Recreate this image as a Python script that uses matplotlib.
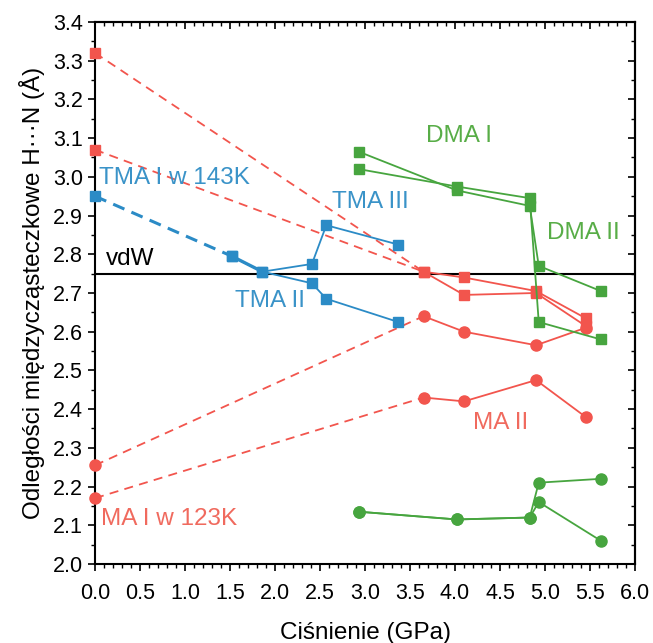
import matplotlib
matplotlib.use("Agg")
import matplotlib.pyplot as plt
from matplotlib.ticker import MultipleLocator

plt.rcParams['font.family'] = ['Liberation Sans', 'DejaVu Sans']

RED = '#f2554d'
BLUE = '#2b8bc6'
GREEN = '#47a53f'
RED_T = '#f06a5e'
BLUE_T = '#3a93c8'
GREEN_T = '#58ad47'

# MA squares (two branches)
ma_sq_dash_x = [0.0, 3.65]
ma_sq1_dash_y = [3.32, 2.755]
ma_sq2_dash_y = [3.07, 2.755]
ma_sq_x = [3.65, 4.1, 4.9, 5.45]
ma_sq1_y = [2.755, 2.74, 2.705, 2.635]
ma_sq2_y = [2.755, 2.695, 2.70, 2.615]

# MA circles
ma_c_dash_x = [0.0, 3.65]
ma_c1_dash_y = [2.255, 2.64]
ma_c2_dash_y = [2.17, 2.43]
ma_c_x = [3.65, 4.1, 4.9, 5.45]
ma_c1_y = [2.64, 2.60, 2.565, 2.61]
ma_c2_y = [2.43, 2.42, 2.475, 2.38]

# TMA
tma_dash_x = [0.0, 1.52]
tma_dash_y = [2.95, 2.795]
tma_x = [1.52, 1.86, 2.41, 2.57, 3.37]
tma3_y = [2.795, 2.755, 2.775, 2.875, 2.825]
tma2_y = [2.795, 2.755, 2.725, 2.685, 2.625]

# DMA squares
dma_sq_x = [2.93, 4.02, 4.83, 4.93, 5.62]
dma_sq1_y = [3.065, 2.965, 2.925, 2.77, 2.705]
dma_sq2_y = [3.02, 2.975, 2.945, 2.625, 2.58]

# DMA circles
dma_c_x = [2.93, 4.02, 4.83, 4.93, 5.62]
dma_c1_y = [2.135, 2.115, 2.12, 2.21, 2.22]
dma_c2_y = [2.135, 2.115, 2.12, 2.16, 2.06]

vdw = 2.75

fig = plt.figure(figsize=(6.53, 6.43), dpi=100)
ax = fig.add_axes([0.1455, 0.1229, 0.827, 0.8429])

dash = (0, (5, 3.5))
ax.axhline(vdw, color='black', lw=1.5, zorder=2)

kw = dict(clip_on=False)
# dashed connectors
for yy in (ma_sq1_dash_y, ma_sq2_dash_y):
    ax.plot(ma_sq_dash_x, yy, color=RED, lw=1.3, ls=dash, zorder=3)
for yy in (ma_c1_dash_y, ma_c2_dash_y):
    ax.plot(ma_c_dash_x, yy, color=RED, lw=1.3, ls=dash, zorder=3)
ax.plot(tma_dash_x, tma_dash_y, color=BLUE, lw=2.2, ls=(0, (4, 2.5)), zorder=3)
ax.plot([0.0], [tma_dash_y[0]], 's', color=BLUE, ms=7, zorder=5, **kw)
ax.plot([0.0, 0.0], [ma_sq1_dash_y[0], ma_sq2_dash_y[0]], 's', color=RED, ms=7, ls='none', zorder=5, **kw)
ax.plot([0.0, 0.0], [ma_c1_dash_y[0], ma_c2_dash_y[0]], 'o', color=RED, ms=8, ls='none', zorder=5, **kw)

# solid series
for yy in (ma_sq1_y, ma_sq2_y):
    ax.plot(ma_sq_x, yy, '-s', color=RED, lw=1.3, ms=7, zorder=4, **kw)
for yy in (ma_c1_y, ma_c2_y):
    ax.plot(ma_c_x, yy, '-o', color=RED, lw=1.3, ms=8, zorder=4, **kw)
for yy in (tma3_y, tma2_y):
    ax.plot(tma_x, yy, '-s', color=BLUE, lw=1.3, ms=6.5, zorder=4, **kw)
ax.plot(tma_x[:2], tma2_y[:2], '-', color=BLUE, lw=2.4, zorder=4)
for yy in (dma_sq1_y, dma_sq2_y):
    ax.plot(dma_sq_x, yy, '-s', color=GREEN, lw=1.3, ms=7, zorder=4, **kw)
for yy in (dma_c1_y, dma_c2_y):
    ax.plot(dma_c_x, yy, '-o', color=GREEN, lw=1.3, ms=8, zorder=4, **kw)

# labels
fs = 17.5
ax.text(0.04, 2.997, 'TMA I w 143K', color=BLUE_T, fontsize=fs, va='center', ha='left')
ax.text(2.63, 2.935, 'TMA III', color=BLUE_T, fontsize=fs, va='center', ha='left')
ax.text(1.55, 2.68, 'TMA II', color=BLUE_T, fontsize=fs, va='center', ha='left')
ax.text(0.12, 2.788, 'vdW', color='black', fontsize=fs, va='center', ha='left')
ax.text(3.68, 3.105, 'DMA I', color=GREEN_T, fontsize=fs, va='center', ha='left')
ax.text(5.02, 2.855, 'DMA II', color=GREEN_T, fontsize=fs, va='center', ha='left')
ax.text(4.2, 2.365, 'MA II', color=RED_T, fontsize=fs, va='center', ha='left')
ax.text(0.07, 2.115, 'MA I w 123K', color=RED_T, fontsize=fs, va='center', ha='left')

ax.set_xlim(0, 6.0)
ax.set_ylim(2.0, 3.4)
ax.xaxis.set_major_locator(MultipleLocator(0.5))
ax.xaxis.set_minor_locator(MultipleLocator(0.1))
ax.yaxis.set_major_locator(MultipleLocator(0.1))
ax.yaxis.set_minor_locator(MultipleLocator(0.05))
ax.xaxis.set_major_formatter(plt.FormatStrFormatter('%.1f'))
ax.yaxis.set_major_formatter(plt.FormatStrFormatter('%.1f'))
ax.tick_params(which='both', direction='out', top=False, right=False, labelsize=15.5)
ax.tick_params(which='major', length=5, width=1.2)
ax.tick_params(which='minor', length=3, width=1)
ax.tick_params(axis='x', pad=9)
secx = ax.secondary_xaxis('top')
secx.xaxis.set_major_locator(MultipleLocator(0.5))
secx.xaxis.set_minor_locator(MultipleLocator(0.1))
secx.tick_params(which='both', direction='in', labeltop=False)
secx.tick_params(which='major', length=5, width=1.2)
secx.tick_params(which='minor', length=3, width=1)
secy = ax.secondary_yaxis('right')
secy.yaxis.set_major_locator(MultipleLocator(0.1))
secy.yaxis.set_minor_locator(MultipleLocator(0.05))
secy.tick_params(which='both', direction='in', labelright=False)
secy.tick_params(which='major', length=5, width=1.2)
secy.tick_params(which='minor', length=3, width=1)
for sp in list(ax.spines.values()):
    sp.set_linewidth(1.5)
secx.spines['top'].set_linewidth(1.5)
secy.spines['right'].set_linewidth(1.5)

ax.set_xlabel('Ciśnienie (GPa)', fontsize=17.5, labelpad=13)
ax.set_ylabel('Odległości międzycząsteczkowe H···N (Å)', fontsize=17.5, labelpad=6)

fig.savefig('out.png', dpi=100)
